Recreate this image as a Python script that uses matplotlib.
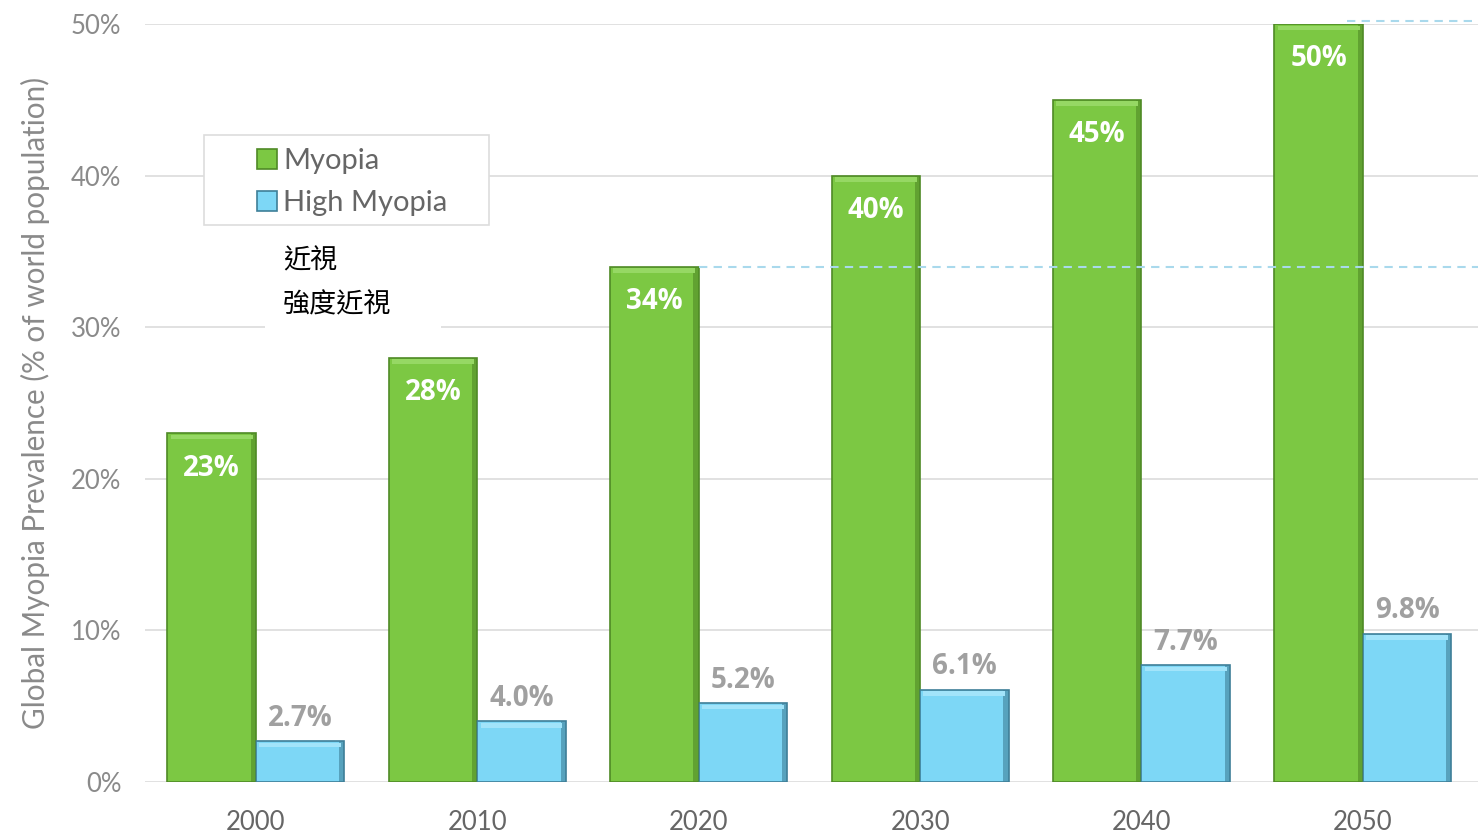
import matplotlib.pyplot as plt
from matplotlib.patches import Rectangle
import numpy as np

years = ["2000", "2010", "2020", "2030", "2040", "2050"]
myopia = [23, 28, 34, 40, 45, 50]
high_myopia = [2.7, 4.0, 5.2, 6.1, 7.7, 9.8]
myopia_labels = ["23%", "28%", "34%", "40%", "45%", "50%"]
high_labels = ["2.7%", "4.0%", "5.2%", "6.1%", "7.7%", "9.8%"]
yticks = [0, 10, 20, 30, 40, 50]

GREEN = "#7cc843"
GREEN_DARK = "#4f8a26"
BLUE = "#7dd7f6"
BLUE_DARK = "#3e7f98"
W = 0.4

plt.rcParams['font.family'] = ['Lato', 'DejaVu Sans']

fig = plt.figure(figsize=(14.81, 8.32), dpi=100)
ax = fig.add_axes([0.098, 0.06, 0.900, 0.911])

x = np.arange(len(years))

# bars
ax.bar(x - W / 2, myopia, W, color=GREEN, edgecolor=GREEN_DARK, linewidth=1.2, zorder=3, label="Myopia")
ax.bar(x + W / 2, high_myopia, W, color=BLUE, edgecolor=BLUE_DARK, linewidth=1.2, zorder=3, label="High Myopia")
# bevel: darker right strip, lighter top strip
ax.bar(x - 0.012, myopia, 0.024, color=GREEN_DARK, alpha=0.6, linewidth=0, zorder=4)
ax.bar(x + W - 0.012, high_myopia, 0.024, color=BLUE_DARK, alpha=0.6, linewidth=0, zorder=4)
ax.bar(x - W / 2, [0.3] * len(x), W - 0.03, bottom=np.array(myopia) - 0.4,
       color="#96d864", linewidth=0, zorder=4)
ax.bar(x + W / 2, [0.3] * len(x), W - 0.03, bottom=np.array(high_myopia) - 0.4,
       color="#a2e4fa", linewidth=0, zorder=4)

# value labels
for xi, v, lab in zip(x, myopia, myopia_labels):
    ax.text(xi - W / 2, v - 2.3, lab, ha="center", va="center", color="white",
            fontsize=20, fontweight="bold", family=['Open Sans', 'DejaVu Sans'], zorder=5)
for xi, v, lab in zip(x, high_myopia, high_labels):
    ax.text(xi + W / 2, v + 1.5, lab, ha="center", va="center", color="#a0a0a0",
            fontsize=20, fontweight="bold", family=['Open Sans', 'DejaVu Sans'], zorder=5)

# dashed reference lines
ax.hlines(myopia[2], x[2], 5.52, colors="#a9d9ec", linestyles=(0, (4, 3)), linewidth=1.5, zorder=6)
ax.hlines(50.2, 4.93, 5.52, colors="#a9d9ec", linestyles=(0, (4, 3)), linewidth=1.5,
          zorder=6, clip_on=False)

ax.set_xlim(-0.5, 5.52)
ax.set_ylim(0, 50)
ax.set_yticks(yticks)
ax.set_yticklabels([f"{t}%" for t in yticks])
ax.set_xticks(x)
ax.set_xticklabels(years)
ax.grid(axis="y", color="#dcdcdc", linewidth=1.2)
ax.set_axisbelow(True)
for s in ax.spines.values():
    s.set_visible(False)
ax.tick_params(axis="both", length=0, labelsize=18.5, colors="#8a8a8a")
ax.tick_params(axis="x", pad=20, colors="#666666")
ax.tick_params(axis="y", pad=17)
ax.set_ylabel("Global Myopia Prevalence (% of world population)", fontsize=21.3,
              color="#8a8a8a", labelpad=15)

# legend with custom frame
ax.add_patch(Rectangle((0.0443, 0.735), 0.2138, 0.119, transform=ax.transAxes,
                       facecolor="white", edgecolor="#dddddd", linewidth=1.2, zorder=7))
leg = ax.legend(loc="upper left", bbox_to_anchor=(0.075, 0.852), frameon=False,
                fontsize=21, handlelength=0.7, handleheight=0.7, handletextpad=0.2,
                labelspacing=0.55, borderaxespad=0, labelcolor="#666666")
leg.set_zorder(8)

# white patch with Chinese labels
ax.add_patch(Rectangle((0.09, 0.59), 0.132, 0.13, transform=ax.transAxes,
                       facecolor="white", edgecolor="none", zorder=7))
ax.text(0.1036, 0.688, "近視", transform=ax.transAxes, fontsize=19.5, color="black",
        va="center", ha="left", family=['Noto Sans CJK TC', 'DejaVu Sans'], zorder=8)
ax.text(0.1036, 0.630, "強度近視", transform=ax.transAxes, fontsize=19.5, color="black",
        va="center", ha="left", family=['Noto Sans CJK TC', 'DejaVu Sans'], zorder=8)

fig.savefig("out.png", dpi=100)
